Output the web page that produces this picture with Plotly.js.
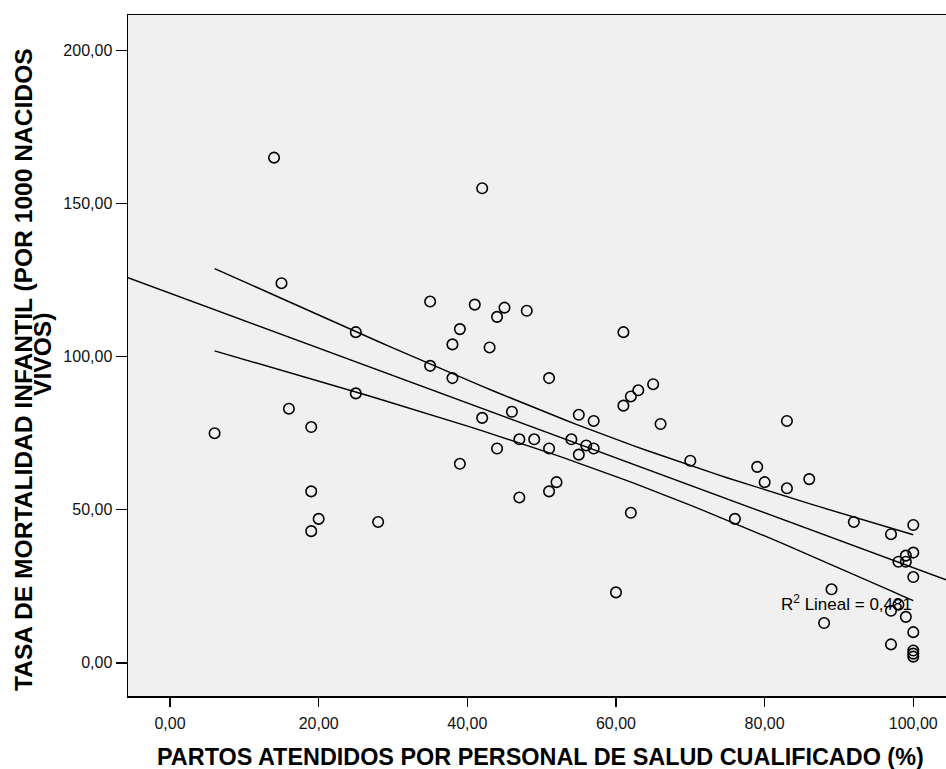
<!DOCTYPE html>
<html>
<head>
<meta charset="utf-8">
<script src="https://cdn.plot.ly/plotly-3.0.1.min.js"></script>
<style>
  html, body { margin: 0; padding: 0; background: #ffffff; }
  #chart { width: 946px; height: 769px; }
</style>
</head>
<body>
<div id="chart"></div>
<script>
// Partos atendidos por personal de salud cualificado (%) por país
const partosAtendidos = [
  6, 14, 15, 16, 19, 19, 19, 20, 25, 25, 28, 35, 35, 38, 38, 39, 39, 41, 42, 42,
  43, 44, 44, 45, 46, 47, 47, 48, 49, 51, 51, 51, 52, 54, 55, 55, 56, 57, 57, 60,
  61, 61, 62, 62, 63, 65, 66, 70, 76, 79, 80, 83, 83, 86, 88, 89, 92, 97, 97, 97,
  98, 98, 99, 99, 99, 100, 100, 100, 100, 100, 100, 100
];
// Tasa de mortalidad infantil (por 1000 nacidos vivos)
const mortalidadInfantil = [
  75, 165, 124, 83, 77, 56, 43, 47, 108, 88, 46, 118, 97, 104, 93, 109, 65, 117, 155, 80,
  103, 113, 70, 116, 82, 73, 54, 115, 73, 93, 70, 56, 59, 73, 81, 68, 71, 79, 70, 23,
  108, 84, 87, 49, 89, 91, 78, 66, 47, 64, 59, 79, 57, 60, 13, 24, 46, 42, 17, 6,
  33, 19, 35, 15, 33, 45, 36, 28, 10, 4, 3, 2
];

const xTickVals = [0, 20, 40, 60, 80, 100];
const xTickText = ['0,00', '20,00', '40,00', '60,00', '80,00', '100,00'];
const yTickVals = [0, 50, 100, 150, 200];
const yTickText = ['0,00', '50,00', '100,00', '150,00', '200,00'];

const rSquaredText = 'R<sup>2</sup> Lineal = 0,481';
const T_CRIT = 1.994; // t de Student, 95 %, gl = n - 2

// Ajuste lineal por mínimos cuadrados e intervalo de confianza de la media
function linearFit(xs, ys) {
  const n = xs.length;
  const mx = xs.reduce((a, b) => a + b, 0) / n;
  const my = ys.reduce((a, b) => a + b, 0) / n;
  let sxx = 0, sxy = 0;
  for (let i = 0; i < n; i++) {
    sxx += (xs[i] - mx) ** 2;
    sxy += (xs[i] - mx) * (ys[i] - my);
  }
  const slope = sxy / sxx;
  const intercept = my - slope * mx;
  let sse = 0;
  for (let i = 0; i < n; i++) sse += (ys[i] - intercept - slope * xs[i]) ** 2;
  const s = Math.sqrt(sse / (n - 2));
  return { n, mx, sxx, slope, intercept, s };
}

const fit = linearFit(partosAtendidos, mortalidadInfantil);
const xMin = Math.min(...partosAtendidos);
const xMax = Math.max(...partosAtendidos);

const X_RANGE = [-5.65, 104.4];
const Y_RANGE = [-10.85, 211.6];

const lineX = X_RANGE.slice();
const lineY = lineX.map(x => fit.intercept + fit.slope * x);

const bandX = [];
for (let i = 0; i <= 60; i++) bandX.push(xMin + (xMax - xMin) * i / 60);
const halfWidth = x => T_CRIT * fit.s * Math.sqrt(1 / fit.n + (x - fit.mx) ** 2 / fit.sxx);
const upperY = bandX.map(x => fit.intercept + fit.slope * x + halfWidth(x));
const lowerY = bandX.map(x => fit.intercept + fit.slope * x - halfWidth(x));

const FONT = '"Liberation Sans", Arial, sans-serif';
const lineStyle = { color: '#000000', width: 1.4 };

const traces = [
  { x: lineX, y: lineY, mode: 'lines', line: lineStyle, hoverinfo: 'skip', showlegend: false },
  { x: bandX, y: upperY, mode: 'lines', line: lineStyle, hoverinfo: 'skip', showlegend: false },
  { x: bandX, y: lowerY, mode: 'lines', line: lineStyle, hoverinfo: 'skip', showlegend: false },
  {
    x: partosAtendidos, y: mortalidadInfantil, mode: 'markers', showlegend: false,
    marker: { symbol: 'circle-open', size: 10.5, color: '#000000', line: { width: 1.6, color: '#000000' } }
  }
];

const M = { l: 128, r: 0, t: 15, b: 73 };
const W = 946, H = 769;
const plotW = W - M.l - M.r, plotH = H - M.t - M.b;
const px2paperX = px => (px - M.l) / plotW;
const px2paperY = py => (H - M.b - py) / plotH;

const layout = {
  width: W, height: H,
  margin: M,
  paper_bgcolor: '#ffffff',
  plot_bgcolor: '#f0f0f0',
  font: { family: FONT, color: '#000000' },
  showlegend: false,
  xaxis: {
    range: X_RANGE, tickvals: xTickVals, ticktext: xTickText,
    ticks: 'outside', ticklen: 9, tickwidth: 1.5, tickcolor: '#000',
    showline: true, linecolor: '#000', linewidth: 1.5, mirror: true,
    showgrid: false, zeroline: false,
    tickfont: { size: 16, color: '#111', family: FONT },
    ticklabelstandoff: 3
  },
  yaxis: {
    range: Y_RANGE, tickvals: yTickVals, ticktext: yTickText,
    ticks: 'outside', ticklen: 11, tickwidth: 1.5, tickcolor: '#000',
    showline: true, linecolor: '#000', linewidth: 1.5, mirror: false,
    showgrid: false, zeroline: false,
    tickfont: { size: 16, color: '#111', family: FONT },
    ticklabelstandoff: 0
  },
  annotations: [
    {
      xref: 'paper', yref: 'paper', x: px2paperX(540), y: px2paperY(757),
      xanchor: 'center', yanchor: 'middle', showarrow: false, borderpad: 0,
      text: '<b>PARTOS ATENDIDOS POR PERSONAL DE SALUD CUALIFICADO (%)</b>',
      font: { size: 23.4, family: FONT, color: '#000' }
    },
    {
      xref: 'paper', yref: 'paper', x: px2paperX(23), y: px2paperY(370),
      xanchor: 'center', yanchor: 'middle', showarrow: false, textangle: -90,
      text: '<b>TASA DE MORTALIDAD INFANTIL (POR 1000 NACIDOS</b>',
      font: { size: 24.6, family: FONT, color: '#000' }
    },
    {
      xref: 'paper', yref: 'paper', x: px2paperX(42), y: px2paperY(355),
      xanchor: 'center', yanchor: 'middle', showarrow: false, textangle: -90,
      text: '<b>VIVOS)</b>',
      font: { size: 24.6, family: FONT, color: '#000' }
    },
    {
      xref: 'paper', yref: 'paper', x: px2paperX(779), y: px2paperY(603),
      xanchor: 'left', yanchor: 'middle', showarrow: false,
      text: rSquaredText,
      font: { size: 17, family: FONT, color: '#000' }
    }
  ]
};

Plotly.newPlot('chart', traces, layout, { displayModeBar: false, staticPlot: true });
</script>
</body>
</html>
